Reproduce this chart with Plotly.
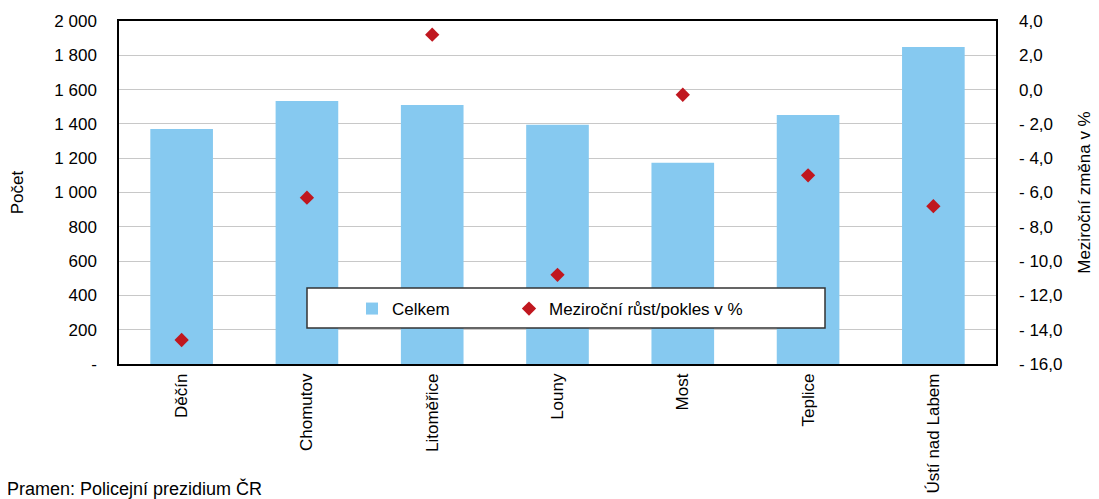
import plotly.graph_objects as go

categories = ["Děčín", "Chomutov", "Litoměřice", "Louny", "Most", "Teplice", "Ústí nad Labem"]
celkem = [1370, 1533, 1510, 1395, 1174, 1452, 1848]
mezirocni = [-14.6, -6.3, 3.2, -10.8, -0.3, -5.0, -6.8]

left_tickvals = [0, 200, 400, 600, 800, 1000, 1200, 1400, 1600, 1800, 2000]
left_ticktext = ["-", "200", "400", "600", "800", "1 000", "1 200", "1 400", "1 600", "1 800", "2 000"]
right_tickvals = [4, 2, 0, -2, -4, -6, -8, -10, -12, -14, -16]
right_ticktext = ["4,0", "2,0", "0,0", "- 2,0", "- 4,0", "- 6,0", "- 8,0", "- 10,0", "- 12,0", "- 14,0", "- 16,0"]

FONT = "Liberation Sans, Arial, sans-serif"
OFF = 8  # page body margin
W, H = 1099 - OFF, 499 - OFF
L, R, T, B = 119 - OFF, 996 - OFF, 21 - OFF, 364 - OFF
PW, PH = R - L, B - T


def px(xs):
    return (xs - OFF - L) / PW


def py(ys):
    return (B - (ys - OFF)) / PH


fig = go.Figure()
fig.add_trace(go.Bar(
    x=categories, y=celkem, name="Celkem",
    marker=dict(color="#86C9F0", line=dict(width=0)),
    width=0.5, yaxis="y", legend="legend",
))
fig.add_trace(go.Scatter(
    x=categories, y=mezirocni, name="Meziroční růst/pokles v %",
    mode="markers",
    marker=dict(symbol="diamond", size=11, color="#C0171F"),
    yaxis="y2", legend="legend2",
))

leg_common = dict(
    orientation="h", yanchor="middle", xanchor="left",
    bgcolor="rgba(0,0,0,0)", font=dict(size=17), itemwidth=30,
)

fig.update_layout(
    width=W, height=H,
    margin=dict(l=L, r=W - R, t=T, b=H - B, autoexpand=False),
    paper_bgcolor="white", plot_bgcolor="white",
    font=dict(family=FONT, size=17, color="black"),
    showlegend=True,
    legend=dict(x=px(352), y=py(309), **leg_common),
    legend2=dict(x=px(509), y=py(309), **leg_common),
    xaxis=dict(
        tickangle=-90, showline=True, linecolor="black", linewidth=1.5, mirror=True,
        ticks="", tickfont=dict(size=17), showgrid=False, automargin=False,
        ticklabelstandoff=1,
    ),
    yaxis=dict(
        range=[0, 2000], tickvals=left_tickvals, ticktext=left_ticktext,
        showgrid=True, gridcolor="#C8C8C8", gridwidth=1,
        showline=True, linecolor="black", linewidth=1.5, mirror=True,
        ticks="", tickfont=dict(size=17), zeroline=False, automargin=False,
        ticklabelstandoff=17,
        title=dict(text="Počet", font=dict(size=17), standoff=26),
    ),
    yaxis2=dict(
        range=[-16, 4], tickvals=right_tickvals, ticktext=right_ticktext,
        overlaying="y", side="right", showgrid=False, zeroline=False,
        ticks="", tickfont=dict(size=17), automargin=False,
        ticklabelstandoff=22,
        title=dict(text="Meziroční změna v %", font=dict(size=17), standoff=16),
    ),
    shapes=[dict(
        type="rect", xref="paper", yref="paper",
        x0=px(307), x1=px(825), y0=py(328), y1=py(288),
        line=dict(color="#333333", width=1.5), fillcolor="white", layer="above",
    )],
    annotations=[dict(
        text="Pramen: Policejní prezidium ČR", xref="paper", yref="paper",
        x=px(5), y=py(489), xanchor="left", yanchor="middle",
        showarrow=False, font=dict(size=18),
    )],
)

fig.write_html("out.html")
